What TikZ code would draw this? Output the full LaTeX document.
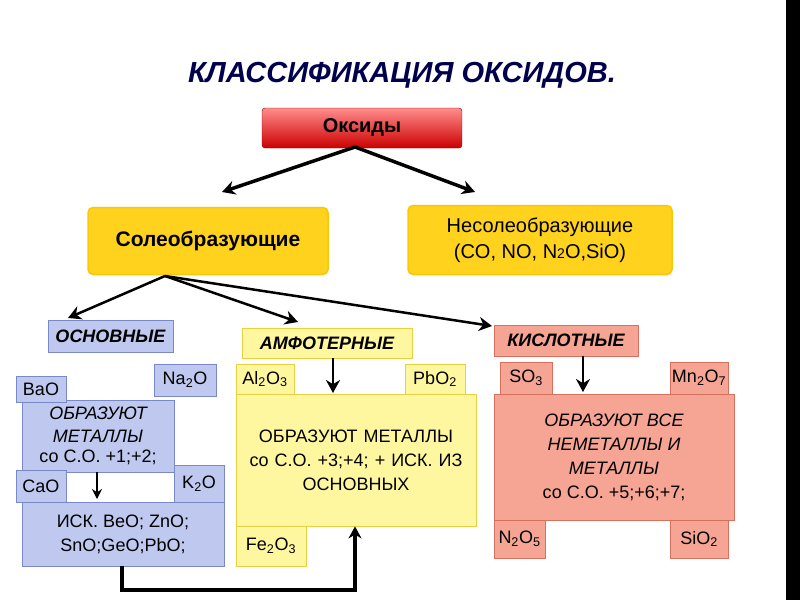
\documentclass[tikz,border=0pt]{standalone}
\usepackage{fontspec}
\setmainfont{Liberation Sans}
\usetikzlibrary{arrows.meta}
\definecolor{bfill}{HTML}{BFC8EE}
\definecolor{bdraw}{HTML}{7A88C8}
\definecolor{yfill}{HTML}{FFF7A0}
\definecolor{ydraw}{HTML}{E8D040}
\definecolor{sfill}{HTML}{F6A494}
\definecolor{sdraw}{HTML}{D87060}
\definecolor{gold}{HTML}{FFD21E}
\begin{document}
\begin{tikzpicture}[x=1pt,y=-1pt,
 ar/.style={-{Stealth[length=13pt,width=14pt]},line width=3.5pt},
 bl/.style={draw=bdraw,fill=bfill,line width=0.8pt},
 yl/.style={draw=ydraw,fill=yfill,line width=0.8pt},
 sl/.style={draw=sdraw,fill=sfill,line width=0.8pt},
 bx/.style={inner sep=0,font=\fontsize{18}{21}\selectfont,align=center}]
\useasboundingbox (0,0) rectangle (800,600);
\fill[white] (0,0) rectangle (800,600);
\fill[black] (786,0) rectangle (800,600);
\node[font=\fontsize{29}{33}\selectfont\bfseries\itshape,text=blue!30!black] (t) at (402,75) {КЛАССИФИКАЦИЯ ОКСИДОВ.};
% top
\node[draw=red!50!black,top color=red!45!white,bottom color=red!80!black,rounded corners=3pt,minimum width=200pt,minimum height=40pt,inner sep=0,font=\fontsize{20}{24}\selectfont\bfseries] (ox) at (362,128) {Оксиды};
\node[draw=yellow!60!orange,fill=gold,rounded corners=5pt,line width=1.5pt,minimum width=240pt,minimum height=67pt,font=\fontsize{21}{24}\selectfont\bfseries] (sol) at (208,241) {Солеобразующие};
\node[draw=yellow!60!orange,fill=gold,rounded corners=5pt,line width=1.5pt,minimum width=264pt,minimum height=69pt,font=\fontsize{20}{26}\selectfont,align=center] (nes) at (540,240) {Несолеобразующие\\(CO, NO, N{\fontsize{14}{14}\selectfont 2}O,SiO)};
\coordinate (o1) at (355,147);
\draw[ar] (o1) -- (222,192);
\draw[ar] (o1) -- (475,192);
\coordinate (s1) at (165,276);
\draw[ar,line width=2.5pt] (s1) -- (68,318);
\draw[ar,line width=2.5pt] (s1) -- (298,322);
\draw[ar,line width=2.5pt] (s1) -- (492,326);
% basic
\node[bl,bx,minimum width=125pt,minimum height=32pt,font=\fontsize{18}{21}\selectfont\bfseries\itshape] (osn) at (110.5,336) {ОСНОВНЫЕ};
\node[bl,bx,minimum width=152pt,minimum height=72pt,font=\fontsize{18}{23}\selectfont\itshape] (b1) at (98,436) {ОБРАЗУЮТ\\МЕТАЛЛЫ\\[-3pt]\upshape со С.О. +1;+2;};
\node[bl,bx,minimum width=202pt,minimum height=64pt,font=\fontsize{18}{24}\selectfont] (b2) at (123,534) {ИСК. BeO; ZnO;\\SnO;GeO;PbO;};
\node[bl,bx,minimum width=50pt,minimum height=26pt] (bao) at (41,389) {BaO};
\node[bl,bx,minimum width=62pt,minimum height=32pt] (na) at (185,380) {Na\textsubscript{2}O};
\node[bl,bx,minimum width=50pt,minimum height=32pt] (cao) at (41,486) {CaO};
\node[bl,bx,minimum width=50pt,minimum height=37pt] (k) at (199,483.5) {K\textsubscript{2}O};
\fill[white] (67,473) rectangle (173,501);
\draw[-{Stealth[length=10pt,width=10pt]},line width=2.5pt] (97,472) -- (97,499);
% amphoteric
\node[yl,bx,minimum width=170pt,minimum height=30pt,font=\fontsize{18}{21}\selectfont\bfseries\itshape] (amf) at (327,343) {АМФОТЕРНЫЕ};
\node[yl,bx,minimum width=240pt,minimum height=132pt,text width=236pt,font=\fontsize{18}{24}\selectfont] (y1) at (356,460) {ОБРАЗУЮТ МЕТАЛЛЫ\\со С.О. +3;+4; + ИСК. ИЗ\\ОСНОВНЫХ};
\node[yl,bx,minimum width=58pt,minimum height=30pt] (al) at (265,379) {Al\textsubscript{2}O\textsubscript{3}};
\node[yl,bx,minimum width=60pt,minimum height=30pt] (pb) at (435,379) {PbO\textsubscript{2}};
\node[yl,bx,minimum width=70pt,minimum height=40pt] (fe) at (271,546) {Fe\textsubscript{2}O\textsubscript{3}};
\draw[ar,line width=2.5pt] (amf.south -| 333,0) -- (333,393);
% acid
\node[sl,bx,minimum width=144pt,minimum height=31pt,font=\fontsize{18}{21}\selectfont\bfseries\itshape] (kis) at (566,340.5) {КИСЛОТНЫЕ};
\node[sl,bx,minimum width=240pt,minimum height=126pt,font=\fontsize{18}{24}\selectfont] (r1) at (614,457) {\itshape ОБРАЗУЮТ ВСЕ\\\itshape НЕМЕТАЛЛЫ И\\\itshape МЕТАЛЛЫ\\со С.О. +5;+6;+7;};
\node[sl,bx,minimum width=52pt,minimum height=32pt] (so) at (526,378) {SO\textsubscript{3}};
\node[sl,bx,minimum width=58pt,minimum height=32pt] (mn) at (699,378) {Mn\textsubscript{2}O\textsubscript{7}};
\node[sl,bx,minimum width=51pt,minimum height=38pt] (n2) at (519.5,539) {N\textsubscript{2}O\textsubscript{5}};
\node[sl,bx,minimum width=58pt,minimum height=38pt] (si) at (699,539) {SiO\textsubscript{2}};
\draw[ar,line width=2.5pt] (kis.south -| 583,0) -- (583,392);
% bottom connector
\coordinate (c1) at (122,590);
\coordinate (c2) at (355,590);
\draw[line width=3.5pt,-{Stealth[length=12pt,width=13pt]}] (b2.south -| 122,0) -- (c1) -- (c2) -- (y1.south -| 355,0);
\end{tikzpicture}
\end{document}
